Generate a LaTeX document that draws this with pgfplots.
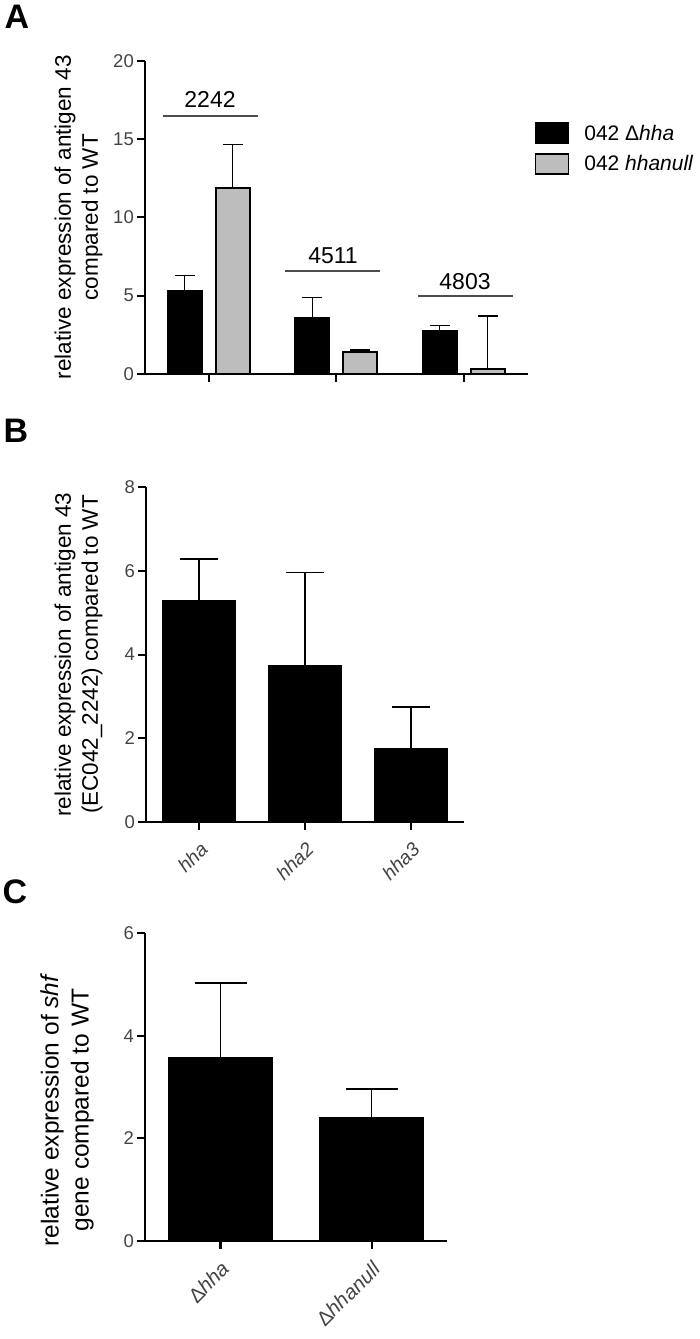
\documentclass[border=0pt]{standalone}
\usepackage{fontspec}
\setmainfont{Liberation Sans}
\usepackage{pgfplots}
\pgfplotsset{compat=1.18}

\definecolor{barg}{HTML}{BDBDBD}
\definecolor{tickg}{HTML}{444444}

\pgfplotsset{
  prism/.style={
    scale only axis,
    axis lines=left,
    axis line style={-, line width=2.2pt, black},
    x axis line style={shorten <=-8pt},
    tick align=outside,
    major tick length=8pt,
    tick style={line width=2pt, black},
    minor tick num=0,
    ymin=0,
    clip=false,
    ybar,
    /pgf/number format/assume math mode=true,
    yticklabel style={font=\fontsize{18.5}{20}\selectfont, text=tickg, inner sep=3pt},
    xticklabel style={font=\fontsize{19.5}{21}\selectfont, text=tickg, rotate=45, anchor=north east, inner sep=2pt},
    xticklabel shift=8pt,
    ylabel style={align=center, font=\fontsize{22.5}{27}\selectfont, anchor=center},
    error bars/y dir=plus,
    error bars/y explicit,
    error bars/error bar style={line width=1.4pt, black},
  },
}

\begin{document}
\begin{tikzpicture}
\useasboundingbox (0,0) rectangle (700pt,1339pt);

% panel letters
\node[font=\fontsize{34}{34}\selectfont\bfseries] at (17pt,1322pt) {A};
\node[font=\fontsize{34}{34}\selectfont\bfseries] at (16pt,908pt) {B};
\node[font=\fontsize{34}{34}\selectfont\bfseries] at (15pt,447pt) {C};

% ---------- A ----------
\begin{axis}[prism,
  at={(145pt,965pt)}, anchor=south west,
  width=382.5pt, height=313.3pt,
  xmin=-0.5, xmax=2.5, ymax=20,
  xtick={0,1,2}, xticklabels={},
  ytick={0,5,10,15,20},
  ylabel={relative expression of antigen 43\\compared to WT},
  ylabel style={at={(axis description cs:-0.174,0.5)}},
  legend style={at={(1.01,0.81)}, anchor=north west, draw=none, fill=none,
    font=\fontsize{21}{23}\selectfont, row sep=9pt, cells={anchor=west}},
  legend image code/.code={\draw[#1, line width=1.8pt] (0pt,-10pt) rectangle (33pt,10pt); \path (46pt,0pt);},
]
\addplot[fill=black, draw=black, line width=1.8pt, bar width=34pt, bar shift=-24pt,
  error bars/error mark options={rotate=90, mark size=10pt, line width=1.4pt, black}]
  coordinates {(0,5.30) +- (0,0.97) (1,3.55) +- (0,1.35) (2,2.74) +- (0,0.34)};
\addlegendentry{042 Δ\textit{hha}}
\addplot[fill=barg, draw=black, line width=1.8pt, bar width=34pt, bar shift=24pt,
  error bars/error mark options={rotate=90, mark size=10pt, line width=1.4pt, black}]
  coordinates {(0,11.85) +- (0,2.81) (1,1.38) +- (0,0.15) (2,0.30) +- (0,3.40)};
\addlegendentry{042 \textit{hhanull}}

\draw[line width=1.4pt, black!70] (axis cs:-0.36,16.47) -- (axis cs:0.39,16.47);
\draw[line width=1.4pt, black!70] (axis cs:0.60,6.57) -- (axis cs:1.34,6.57);
\draw[line width=1.4pt, black!70] (axis cs:1.64,4.98) -- (axis cs:2.39,4.98);
\node[font=\fontsize{23}{25}\selectfont] at (axis cs:0.01,17.5) {2242};
\node[font=\fontsize{23}{25}\selectfont] at (axis cs:0.975,7.53) {4511};
\node[font=\fontsize{23}{25}\selectfont] at (axis cs:2.01,5.87) {4803};
\end{axis}

% ---------- B ----------
\begin{axis}[prism,
  at={(146pt,517.3pt)}, anchor=south west,
  width=318pt, height=334.3pt,
  xmin=-0.5, xmax=2.5, ymax=8,
  xtick={0,1,2}, xticklabels={\textit{hha},\textit{hha2},\textit{hha3}},
  ytick={0,2,4,6,8},
  ylabel={relative expression of antigen 43\\(EC042\_2242) compared to WT},
  ylabel style={at={(axis description cs:-0.212,0.5)}},
]
\addplot[fill=black, draw=black, line width=1.8pt, bar width=73pt, bar shift=0pt,
  error bars/error mark options={rotate=90, mark size=19pt, line width=1.4pt, black}]
  coordinates {(0,5.29) +- (0,1.00) (1,3.72) +- (0,2.24) (2,1.75) +- (0,0.99)};
\end{axis}

% ---------- C ----------
\begin{axis}[prism,
  at={(145pt,98.3pt)}, anchor=south west,
  width=302pt, height=307.4pt,
  xmin=-0.5, xmax=1.5, ymax=6,
  xtick={0,1}, xticklabels={Δ\textit{hha},Δ\textit{hhanull}},
  xticklabel style={font=\fontsize{20.5}{22}\selectfont},
  ytick={0,2,4,6},
  ylabel={relative expression of \textit{shf}\\gene compared to WT},
  ylabel style={at={(axis description cs:-0.257,0.425)}, font=\fontsize{24.5}{30}\selectfont},
]
\addplot[fill=black, draw=black, line width=1.8pt, bar width=103pt, bar shift=0pt,
  error bars/error mark options={rotate=90, mark size=26pt, line width=1.4pt, black}]
  coordinates {(0,3.56) +- (0,1.47) (1,2.40) +- (0,0.56)};
\end{axis}
\end{tikzpicture}
\end{document}
